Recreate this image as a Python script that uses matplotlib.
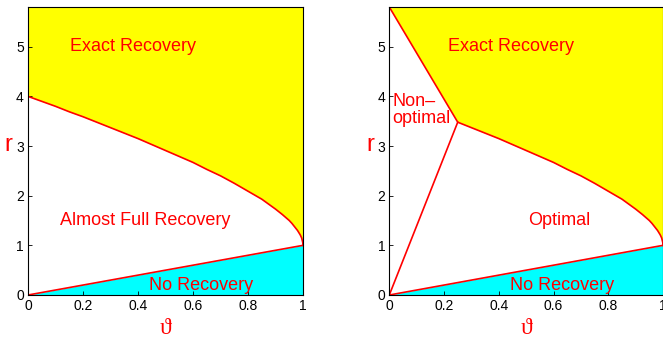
import matplotlib
matplotlib.use('Agg')
import matplotlib.pyplot as plt

# --- data ---
# exact recovery boundary (both panels, right panel only from theta=0.25 on)
theta = [0.0, 0.05, 0.1, 0.15, 0.2, 0.25, 0.3, 0.35, 0.4, 0.45, 0.5, 0.55,
         0.6, 0.65, 0.7, 0.75, 0.8, 0.825, 0.85, 0.875, 0.9, 0.925, 0.95,
         0.96, 0.97, 0.98, 0.99, 0.995, 0.999, 1.0]
r_exact = [4.0, 3.90, 3.80, 3.69, 3.59, 3.48, 3.37, 3.26, 3.15, 3.03, 2.91,
           2.79, 2.67, 2.53, 2.40, 2.25, 2.09, 2.01, 1.93, 1.83, 1.73, 1.62,
           1.50, 1.44, 1.37, 1.30, 1.21, 1.15, 1.06, 1.0]

# no recovery boundary
theta_low = [0.0, 1.0]
r_low = [0.0, 1.0]

# right panel: extra segments
theta_kink = [0.0, 0.25]
r_top_seg = [5.8, 3.48]
r_nonopt_seg = [0.0, 3.48]

ymax = 5.8
xticks = [0, 0.2, 0.4, 0.6, 0.8, 1]
xticklabels = ['0', '0.2', '0.4', '0.6', '0.8', '1']
yticks = [0, 1, 2, 3, 4, 5]

red = '#ff0000'
font = ['Liberation Sans', 'DejaVu Sans']

fig = plt.figure(figsize=(6.63, 3.39), dpi=100)
W, H = 663.0, 339.0
ax1 = fig.add_axes([28 / W, 44 / H, 275 / W, 288 / H])
ax2 = fig.add_axes([389.3 / W, 44 / H, 273.7 / W, 288 / H])


def setup(ax):
    ax.set_xlim(0, 1)
    ax.set_ylim(0, ymax)
    ax.set_xticks(xticks)
    ax.set_xticklabels(xticklabels, family=font, fontsize=10)
    ax.set_yticks(yticks)
    ax.set_yticklabels([str(v) for v in yticks], family=font, fontsize=10)
    ax.tick_params(direction='in', length=3, width=0.6, pad=3)
    for s in ax.spines.values():
        s.set_linewidth(0.8)
    ax.text(0.5, -0.115, '\u03d1', transform=ax.transAxes, ha='center',
            va='center', color=red, fontsize=17,
            family=['Liberation Serif', 'DejaVu Serif'])
    ax.text(-0.07, 0.52, 'r', transform=ax.transAxes, ha='center',
            va='center', color=red, fontsize=17, family=font)


# --- left panel ---
setup(ax1)
ax1.fill_between(theta, r_exact, ymax, color='#ffff00', lw=0)
ax1.fill_between(theta_low, [0, 0], r_low, color='#00ffff', lw=0)
ax1.plot(theta, r_exact, color=red, lw=1.2)
ax1.plot(theta_low, r_low, color=red, lw=1.2)
ax1.text(0.38, 5.0, 'Exact Recovery', color=red, fontsize=13, family=font,
         ha='center', va='center')
ax1.text(0.425, 1.5, 'Almost Full Recovery', color=red, fontsize=13,
         family=font, ha='center', va='center')
ax1.text(0.63, 0.2, 'No Recovery', color=red, fontsize=13, family=font,
         ha='center', va='center')

# --- right panel ---
setup(ax2)
i0 = theta.index(0.25)
top_x = theta_kink + theta[i0 + 1:]
top_y = r_top_seg + r_exact[i0 + 1:]
ax2.fill_between(top_x, top_y, ymax, color='#ffff00', lw=0)
ax2.fill_between(theta_low, [0, 0], r_low, color='#00ffff', lw=0)
ax2.plot(top_x, top_y, color=red, lw=1.2)
ax2.plot(theta_kink, r_nonopt_seg, color=red, lw=1.2)
ax2.plot(theta_low, r_low, color=red, lw=1.2)
ax2.text(0.443, 5.0, 'Exact Recovery', color=red, fontsize=13, family=font,
         ha='center', va='center')
ax2.text(0.012, 3.72, 'Non\u2013\noptimal', color=red, fontsize=13,
         family=font, ha='left', va='center', linespacing=1.0)
ax2.text(0.62, 1.5, 'Optimal', color=red, fontsize=13, family=font,
         ha='center', va='center')
ax2.text(0.63, 0.2, 'No Recovery', color=red, fontsize=13, family=font,
         ha='center', va='center')

fig.savefig('out.png', dpi=100)
